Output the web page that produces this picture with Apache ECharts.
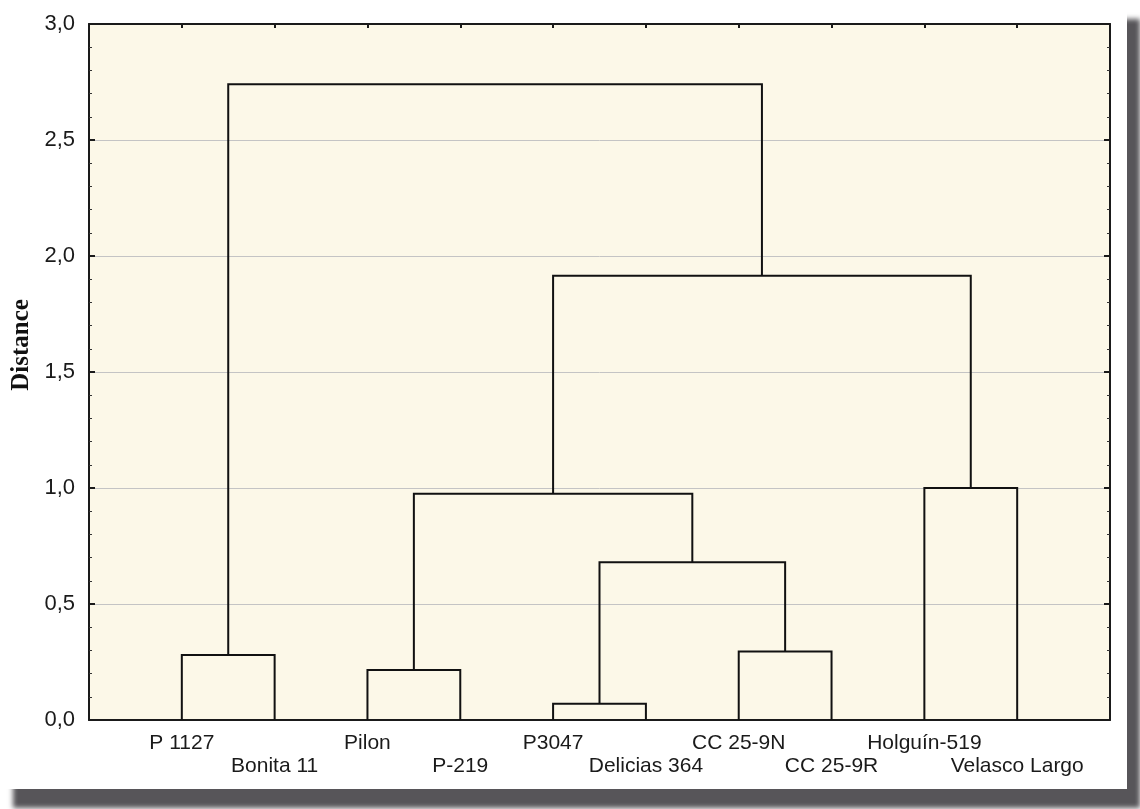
<!DOCTYPE html>
<html>
<head>
<meta charset="utf-8">
<script src="https://cdn.jsdelivr.net/npm/echarts@6/dist/echarts.min.js"></script>
<style>
  html, body { margin: 0; padding: 0; background: #fff; }
  #card {
    position: absolute; left: 0; top: 0;
    width: 1127px; height: 789px;
    background: #fff;
    box-shadow: 13px 19px 5px rgba(78, 76, 80, 0.95);
  }
  #chart { position: absolute; left: 0; top: 0; width: 1140px; height: 809px; }
</style>
</head>
<body>
<div id="card"></div>
<div id="chart"></div>
<script>
// leaves, in dendrogram order
var leaves = ['P 1127', 'Bonita 11', 'Pilon', 'P-219', 'P3047',
              'Delicias 364', 'CC 25-9N', 'CC 25-9R', 'Holguín-519', 'Velasco Largo'];

// merges: [child a, child b, distance] -- nodes 0..9 are leaves, 10+ are clusters
var merges = [
    [4, 5, 0.07],
    [2, 3, 0.215],
    [0, 1, 0.28],
    [6, 7, 0.295],
    [8, 9, 1.0],
    [10, 13, 0.68],
    [11, 15, 0.975],
    [16, 14, 1.915],
    [12, 17, 2.74]
];

var yTicks = [0, 0.5, 1, 1.5, 2, 2.5, 3];

// node position (x) and height (y)
var nodeX = leaves.map(function (_, i) { return i + 1; });
var nodeH = leaves.map(function () { return 0; });
var links = [];
merges.forEach(function (m) {
    var a = m[0], b = m[1];
    links.push([nodeX[a], nodeX[b], m[2], nodeH[a], nodeH[b]]);
    nodeX.push((nodeX[a] + nodeX[b]) / 2);
    nodeH.push(m[2]);
});

var chart = echarts.init(document.getElementById('chart'));

function frame() {
    return { show: true, onZero: false, lineStyle: { color: '#1a1a1a', width: 2 } };
}

var option = {
    animation: false,
    grid: {
        left: 89, right: 30, top: 24, bottom: 89,
        show: true,
        backgroundColor: '#fcf8e8',
        borderWidth: 0
    },
    xAxis: [
        {
            type: 'value',
            min: 0, max: leaves.length + 1, interval: 1,
            position: 'bottom',
            axisLine: frame(),
            axisTick: { show: false },
            splitLine: { show: false },
            axisLabel: {
                margin: 12,
                fontFamily: 'Liberation Sans, Arial',
                fontSize: 21,
                color: '#1a1a1a',
                lineHeight: 23,
                showMinLabel: false,
                showMaxLabel: false,
                formatter: function (v) {
                    var i = Math.round(v) - 1;
                    if (i < 0 || i >= leaves.length) return '';
                    return i % 2 === 1 ? '\n' + leaves[i] : leaves[i];
                }
            }
        },
        {
            type: 'value',
            min: 0, max: leaves.length + 1, interval: 1,
            position: 'top',
            axisLine: frame(),
            axisTick: { show: true, inside: true, length: 4, lineStyle: { color: '#1a1a1a', width: 2 } },
            axisLabel: { show: false },
            splitLine: { show: false }
        }
    ],
    yAxis: [
        {
            type: 'value',
            min: yTicks[0], max: yTicks[yTicks.length - 1], interval: 0.5,
            position: 'left',
            axisLine: frame(),
            axisTick: { show: true, inside: true, length: 6, lineStyle: { color: '#1a1a1a', width: 2 } },
            minorTick: { show: true, splitNumber: 5, length: 3, lineStyle: { color: '#333', width: 1 } },
            splitLine: { show: true, lineStyle: { color: '#c4c4c4', width: 1 } },
            axisLabel: {
                margin: 14,
                fontFamily: 'Liberation Sans, Arial',
                fontSize: 22,
                color: '#1a1a1a',
                formatter: function (v) { return v.toFixed(1).replace('.', ','); }
            }
        },
        {
            type: 'value',
            min: yTicks[0], max: yTicks[yTicks.length - 1], interval: 0.5,
            position: 'right',
            axisLine: frame(),
            axisTick: { show: true, inside: true, length: 6, lineStyle: { color: '#1a1a1a', width: 2 } },
            minorTick: { show: true, splitNumber: 5, length: 3, lineStyle: { color: '#333', width: 1 } },
            splitLine: { show: false },
            axisLabel: { show: false }
        }
    ],
    graphic: [
        {
            type: 'text',
            x: 22, y: 345,
            rotation: Math.PI / 2,
            style: {
                text: 'Distance',
                font: 'bold 25px "Liberation Serif", "Times New Roman", serif',
                fill: '#111',
                align: 'center',
                verticalAlign: 'middle'
            }
        }
    ],
    series: [
        {
            type: 'custom',
            xAxisIndex: 0,
            yAxisIndex: 0,
            data: links,
            encode: { x: [0, 1], y: [2, 3, 4] },
            renderItem: function (params, api) {
                var p0 = api.coord([api.value(0), api.value(3)]);
                var p1 = api.coord([api.value(0), api.value(2)]);
                var p2 = api.coord([api.value(1), api.value(2)]);
                var p3 = api.coord([api.value(1), api.value(4)]);
                return {
                    type: 'polyline',
                    shape: { points: [p0, p1, p2, p3] },
                    style: { fill: null, stroke: '#111', lineWidth: 2 }
                };
            }
        }
    ]
};

chart.setOption(option);
</script>
</body>
</html>
